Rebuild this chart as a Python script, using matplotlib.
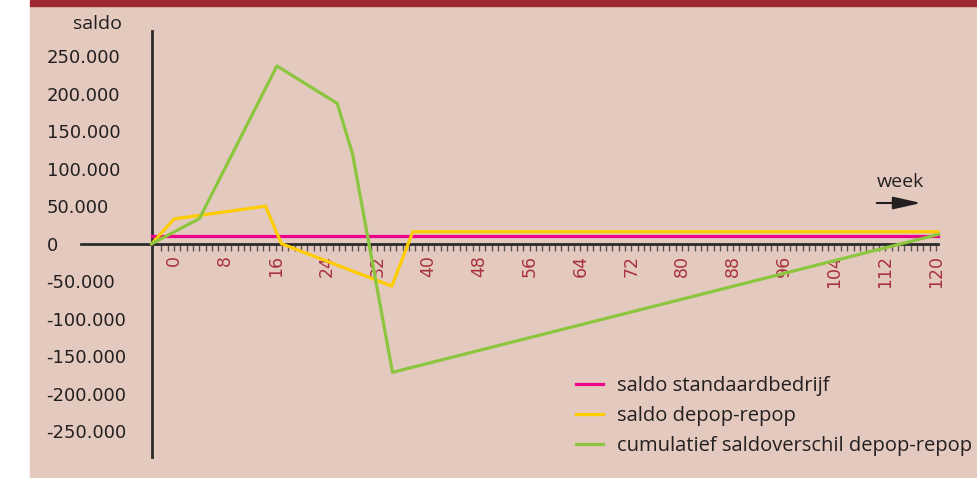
import matplotlib.pyplot as plt
from matplotlib.patches import Rectangle

# waarden (x in weken, y in euro)
weken_standaard = [-3.5, 120.3]
saldo_standaard = [10000, 10000]

weken_depop = [-3.5, 0, 14.4, 16.9, 34.3, 37.6, 120.3]
saldo_depop = [0, 33000, 50000, 0, -56500, 16000, 16000]

weken_cumulatief = [-3.5, 4, 16.2, 25.7, 28.1, 34.4, 120.4]
saldo_cumulatief = [0, 33500, 237000, 187000, 120000, -171500, 12500]

y_ticks = [250000, 200000, 150000, 100000, 50000, 0, -50000, -100000, -150000, -200000, -250000]
y_labels = ["250.000", "200.000", "150.000", "100.000", "50.000", "0",
            "-50.000", "-100.000", "-150.000", "-200.000", "-250.000"]
x_ticks = list(range(0, 121, 8))

namen = ["saldo standaardbedrijf", "saldo depop-repop", "cumulatief saldoverschil depop-repop"]

achtergrond = "#e3c9be"
donkerrood = "#9e2a32"
tekst = "#231f20"

plt.rcParams["font.family"] = ["Open Sans", "DejaVu Sans"]

W, H = 978, 478
fig = plt.figure(figsize=(W / 100, H / 100), dpi=100)
fig.patch.set_facecolor("white")
# vlak en rode balk bovenaan
fig.patches.append(Rectangle((30 / W, 0), 1 - 30 / W, 1 - 6 / H, transform=fig.transFigure,
                             color=achtergrond, zorder=-10))
fig.patches.append(Rectangle((30 / W, 1 - 6 / H), 1 - 30 / W, 6 / H, transform=fig.transFigure,
                             color=donkerrood, zorder=-10))

ax = fig.add_axes([81 / W, (H - 456.7) / H, (938 - 81) / W, 426 / H])
ax.set_zorder(2)
ax.set_facecolor("none")
ax.set_xlim(-14.65, 120.3)
ax.set_ylim(-284000, 284000)

ax.plot(weken_standaard, saldo_standaard, color="#ec008c", lw=2.3, zorder=3, clip_on=False, label=namen[0])
ax.plot(weken_depop, saldo_depop, color="#ffcc00", lw=2.3, zorder=3, clip_on=False, label=namen[1])
ax.plot(weken_cumulatief, saldo_cumulatief, color="#8cc63f", lw=2.3, zorder=3, clip_on=False, label=namen[2])

for s in ["top", "right"]:
    ax.spines[s].set_visible(False)
ax.spines["left"].set_position(("data", -3.46))
ax.spines["bottom"].set_position(("data", 0))
for s in ["left", "bottom"]:
    ax.spines[s].set_color("#2b2b2b")
    ax.spines[s].set_linewidth(2)

ax.set_yticks(y_ticks)
ax.set_yticklabels(y_labels, ha="left", fontsize=13, color=tekst, family="DejaVu Sans")
ax.tick_params(axis="y", length=0, pad=76)

ax.set_xticks(x_ticks)
ax.set_xticklabels([str(x) for x in x_ticks], rotation=90, fontsize=12.5, color="#a8323e",
                   family="DejaVu Sans")
ax.set_xticks([t for t in range(-2, 121) if t % 8 != 0], minor=True)
ax.tick_params(axis="x", which="both", direction="out", length=5, width=1, color="#5a5252", pad=3)

fig.text(122 / W, 1 - 24 / H, "saldo", ha="right", va="center", fontsize=14, color=tekst)
fig.text(900 / W, 1 - 182 / H, "week", ha="center", va="center", fontsize=14, color=tekst)
ax.annotate("", xy=(924, H - 203), xytext=(874, H - 203),
            xycoords="figure pixels", textcoords="figure pixels",
            arrowprops=dict(arrowstyle="-|>,head_length=1.7,head_width=0.38", color="#231f20", lw=1.5))

ax.legend(loc="upper left", bbox_to_anchor=(576 / W, 1 - 376 / H), bbox_transform=fig.transFigure,
          frameon=False, fontsize=14.5, handlelength=1.35, handletextpad=0.7, labelspacing=0.5,
          borderpad=0, borderaxespad=0, labelcolor=tekst)

fig.savefig("out.png", dpi=100)
